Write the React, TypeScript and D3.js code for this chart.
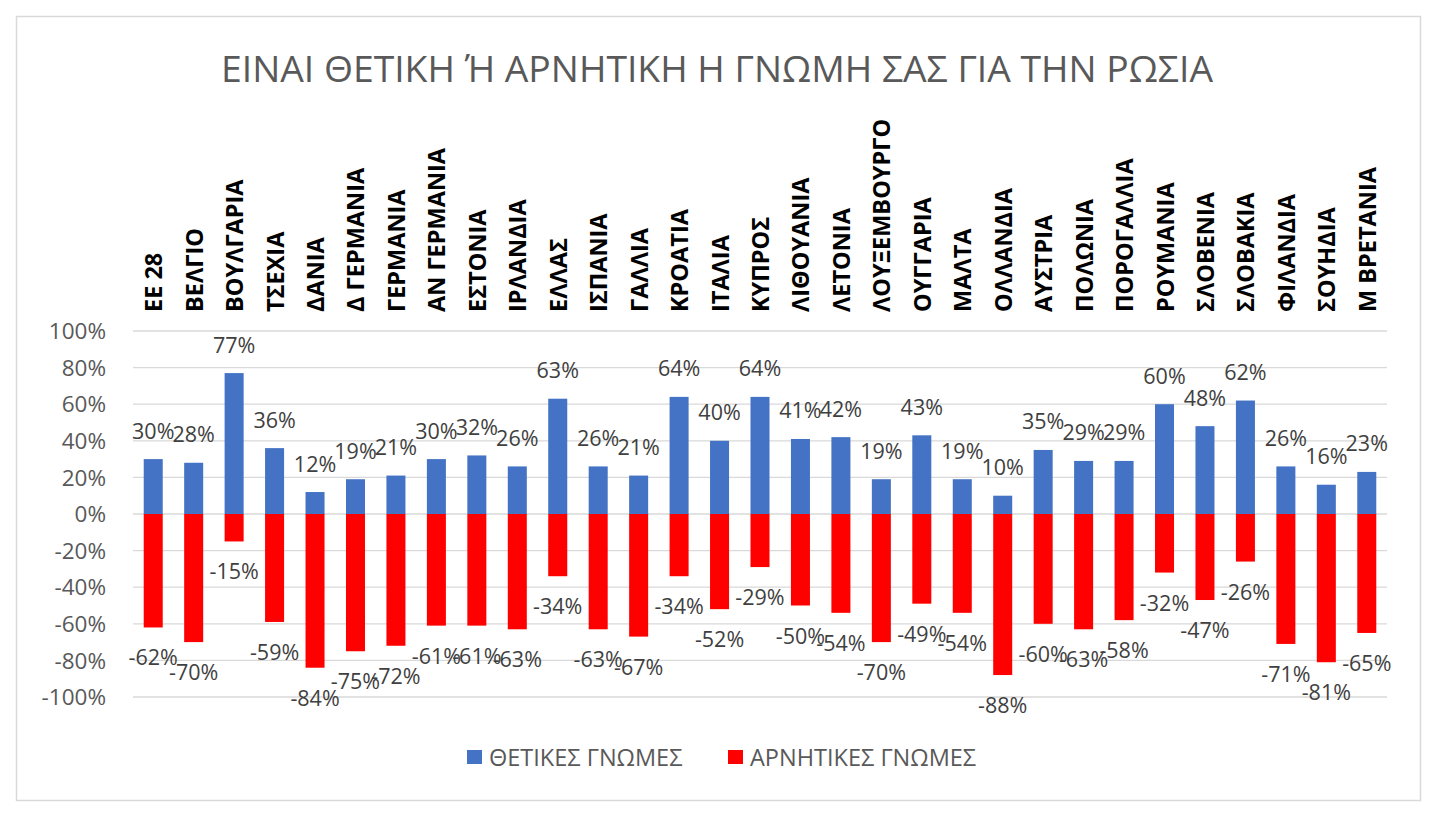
import * as d3 from "d3";

const countries = [
  "ΕΕ 28", "ΒΕΛΓΙΟ", "ΒΟΥΛΓΑΡΙΑ", "ΤΣΕΧΙΑ", "ΔΑΝΙΑ", "Δ ΓΕΡΜΑΝΙΑ", "ΓΕΡΜΑΝΙΑ",
  "ΑΝ ΓΕΡΜΑΝΙΑ", "ΕΣΤΟΝΙΑ", "ΙΡΛΑΝΔΙΑ", "ΕΛΛΑΣ", "ΙΣΠΑΝΙΑ", "ΓΑΛΛΙΑ", "ΚΡΟΑΤΙΑ",
  "ΙΤΑΛΙΑ", "ΚΥΠΡΟΣ", "ΛΙΘΟΥΑΝΙΑ", "ΛΕΤΟΝΙΑ", "ΛΟΥΞΕΜΒΟΥΡΓΟ", "ΟΥΓΓΑΡΙΑ", "ΜΑΛΤΑ",
  "ΟΛΛΑΝΔΙΑ", "ΑΥΣΤΡΙΑ", "ΠΟΛΩΝΙΑ", "ΠΟΡΟΓΑΛΛΙΑ", "ΡΟΥΜΑΝΙΑ", "ΣΛΟΒΕΝΙΑ",
  "ΣΛΟΒΑΚΙΑ", "ΦΙΛΑΝΔΙΑ", "ΣΟΥΗΔΙΑ", "Μ ΒΡΕΤΑΝΙΑ",
];

// θετικές γνώμες (%)
const positive = [30, 28, 77, 36, 12, 19, 21, 30, 32, 26, 63, 26, 21, 64, 40, 64, 41, 42, 19, 43, 19, 10, 35, 29, 29, 60, 48, 62, 26, 16, 23];
// αρνητικές γνώμες (%)
const negative = [-62, -70, -15, -59, -84, -75, -72, -61, -61, -63, -34, -63, -67, -34, -52, -29, -50, -54, -70, -49, -54, -88, -60, -63, -58, -32, -47, -26, -71, -81, -65];

const yTicks = [1, 0.8, 0.6, 0.4, 0.2, 0, -0.2, -0.4, -0.6, -0.8, -1];

const title = "ΕΙΝΑΙ ΘΕΤΙΚΗ Ή ΑΡΝΗΤΙΚΗ Η ΓΝΩΜΗ ΣΑΣ ΓΙΑ ΤΗΝ ΡΩΣΙΑ";
const seriesNames = ["ΘΕΤΙΚΕΣ ΓΝΩΜΕΣ", "ΑΡΝΗΤΙΚΕΣ ΓΝΩΜΕΣ"];

const W = 1443;
const H = 834;
const font = "'Open Sans', 'Noto Sans', sans-serif";
const blue = "#4472C4";
const red = "#FF0000";
const grey = "#595959";

export default function App() {
  const x = d3.scaleBand().domain(countries).range([133, 1387]).paddingInner(0.53).paddingOuter(0.265);
  const y = d3.scaleLinear().domain([-1, 1]).range([697, 331]);
  // plain hyphen like excel, not the unicode minus
  const pct = (v: number) => d3.format(".0%")(v).replace("\u2212", "-");

  return (
    <svg width={W} height={H} style={{ position: "absolute", left: 0, top: 0 }}>
      <rect x={0} y={0} width={W} height={H} fill="#fff" />
      <rect x={16.5} y={16.5} width={1404} height={784} fill="#fff" stroke="#d9d9d9" strokeWidth={1.5} />

      <text x={717} y={82} textAnchor="middle" fontFamily={font} fontSize={37.3} fill={grey}>
        {title}
      </text>

      {/* gridlines + y labels */}
      {yTicks.map((t) => (
        <g key={t}>
          <line x1={133} x2={1387} y1={y(t)} y2={y(t)} stroke="#d9d9d9" strokeWidth={1.3} />
          <text x={106} y={y(t)} dy="0.36em" textAnchor="end" fontFamily={font} fontSize={22.5} fill={grey}>
            {pct(t)}
          </text>
        </g>
      ))}

      {/* category labels */}
      {countries.map((c) => {
        const cx = x(c)! + x.bandwidth() / 2;
        return (
          <text
            key={c}
            transform={`translate(${cx + 9},312) rotate(-90)`}
            textAnchor="start"
            fontFamily={font}
            fontWeight="bold"
            fontSize={23.5}
            fill="#000"
          >
            {c}
          </text>
        );
      })}

      {/* bars */}
      {countries.map((c, i) => (
        <g key={c}>
          <rect x={x(c)} width={x.bandwidth()} y={y(positive[i] / 100)} height={y(0) - y(positive[i] / 100)} fill={blue} />
          <rect x={x(c)} width={x.bandwidth()} y={y(0)} height={y(negative[i] / 100) - y(0)} fill={red} />
        </g>
      ))}

      {/* data labels */}
      {countries.map((c, i) => {
        const cx = x(c)! + x.bandwidth() / 2;
        return (
          <g key={c} fontFamily={font} fontSize={21.5} fill="#404040" textAnchor="middle">
            <text x={cx} y={y(positive[i] / 100) - 20.5}>{positive[i]}%</text>
            <text x={cx} y={y(negative[i] / 100) + 38}>{negative[i]}%</text>
          </g>
        );
      })}

      {/* legend */}
      <rect x={467} y={750} width={15} height={14} fill={blue} />
      <text x={489} y={766} fontFamily={font} fontSize={23.5} fill={grey}>{seriesNames[0]}</text>
      <rect x={728} y={750} width={15} height={14} fill={red} />
      <text x={750} y={766} fontFamily={font} fontSize={23.5} fill={grey}>{seriesNames[1]}</text>
    </svg>
  );
}
